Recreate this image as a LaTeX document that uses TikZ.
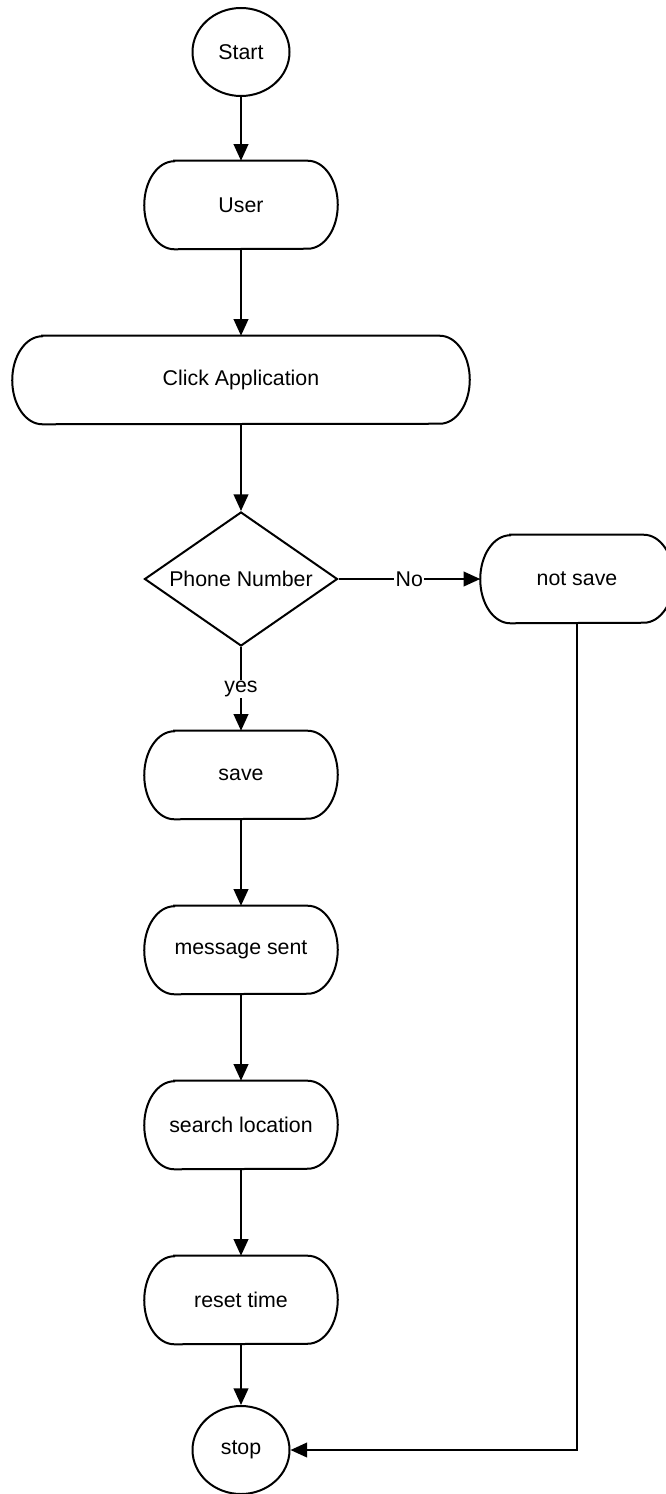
\documentclass[tikz,border=0pt]{standalone}
\usepackage{fontspec}
\setmainfont{Liberation Sans}
\usetikzlibrary{shapes.geometric,arrows.meta}

\tikzset{
	line/.style={line width=1.5pt},
	arrow/.style={line, -{Triangle[length=12.5pt,width=11pt]}},
	terminal/.style={ellipse, draw, line, minimum width=72.75pt, minimum height=66pt, inner sep=0pt},
	process/.style={rectangle, inner sep=0pt, minimum width=144.75pt, minimum height=66pt},
	decision/.style={diamond, draw, line, aspect=1.44, minimum width=144.75pt, minimum height=100.5pt, inner sep=0pt},
	edgelabel/.style={fill=white, inner sep=1pt}
}

\begin{document}
\begin{tikzpicture}[x=0.75pt,y=0.75pt,yscale=-1,xscale=1,font=\fontsize{16}{19}\selectfont]
	\useasboundingbox (0,0) rectangle (665,1494);
	
	% Nodes
	\node [terminal] (start) at (241,52) {Start};
	\node [process] (user) at (241,205) {User};
	\node [process, minimum width=342.75pt] (click) at (241,380) {Click Application};
	\node [decision] (phone) at (241,579) {Phone Number};
	\node [process] (notsave) at (577,579) {not save};
	\node [process] (save) at (241,775) {save};
	\node [process] (msg) at (241,950) {message sent};
	\node [process] (search) at (241,1125) {search location};
	\node [process] (reset) at (241,1300) {reset time};
	\node [terminal] (stop) at (241,1450) {stop};
	
	% Outlines of the rounded boxes
	\foreach \n in {user,click,notsave,save,msg,search,reset}
		\draw [line] ([xshift=22.5pt]\n.north west) -- ([xshift=-22.5pt]\n.north east)
			arc [start angle=-90, end angle=90, x radius=22.5pt, y radius=33pt]
			-- ([xshift=22.5pt]\n.south west)
			arc [start angle=90, end angle=270, x radius=22.5pt, y radius=33pt] -- cycle;
	
	% Connectors
	\draw [arrow] (start) -- (user);
	\draw [arrow] (user) -- (click);
	\draw [arrow] (click) -- (phone);
	\draw [arrow] (phone) -- node [edgelabel] {No} (notsave);
	\draw [arrow] (phone) -- node [edgelabel] {yes} (save);
	\draw [arrow] (save) -- (msg);
	\draw [arrow] (msg) -- (search);
	\draw [arrow] (search) -- (reset);
	\draw [arrow] (reset) -- (stop);
	\draw [arrow] (notsave.south) |- (stop.east);
	
\end{tikzpicture}
\end{document}
